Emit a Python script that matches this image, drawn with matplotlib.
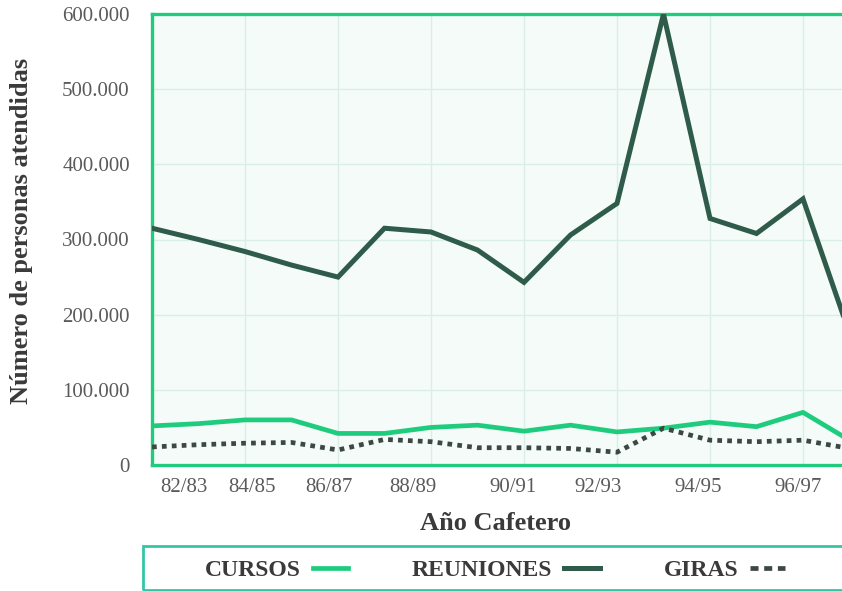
import matplotlib.pyplot as plt
from matplotlib.lines import Line2D
from matplotlib.patches import Rectangle

# datos (personas atendidas por año cafetero)
anios = ['82/83', '83/84', '84/85', '85/86', '86/87', '87/88', '88/89', '89/90',
         '90/91', '91/92', '92/93', '93/94', '94/95', '95/96', '96/97', '97/98']
reuniones = [315000, 300000, 284000, 266000, 250000, 315000, 310000, 286000,
             243000, 306000, 348000, 600000, 328000, 308000, 354000, 175000]
cursos = [52000, 55000, 60000, 60000, 42000, 42000, 50000, 53000,
          45000, 53000, 44000, 49000, 57000, 51000, 70000, 33000]
giras = [24000, 27000, 29000, 30000, 20000, 34000, 31000, 23000,
         23000, 22000, 17000, 49000, 33000, 31000, 33000, 22000]

etiquetas_x = ['82/83', '84/85', '86/87', '88/89', '90/91', '92/93', '94/95', '96/97']
yticks = [0, 100000, 200000, 300000, 400000, 500000, 600000]

verde = '#1fcc7e'
verde_osc = '#2f5b4b'
gris = '#3c4843'

plt.rcParams['font.family'] = ['Liberation Serif', 'DejaVu Serif']

fig = plt.figure(figsize=(8.42, 5.91), dpi=100)
W, H = 842, 591
x0, x1 = 152, 152 + 15.3 * 46.5
ax = fig.add_axes([x0 / W, (H - 465) / H, (x1 - x0) / W, (465 - 14) / H])
ax.set_facecolor('#f4fbf8')

x = list(range(len(anios)))
ax.plot(x, reuniones, color=verde_osc, lw=3.6, solid_joinstyle='miter', zorder=4)
ax.plot(x, cursos, color=verde, lw=3.4, zorder=4)
ax.plot(x, giras, color=gris, lw=3.4, linestyle=(0, (1, 1.1)), zorder=4)

ax.set_xlim(0, 15.3)
ax.set_ylim(0, 600000)

# etiquetas del eje x tal como aparecen (no exactamente sobre los puntos)
ax.set_xticks([0.69, 2.15, 3.8, 5.6, 7.76, 9.6, 11.74, 13.9], etiquetas_x)
ax.set_xticks(range(0, 16, 2), minor=True)
ax.set_yticks(yticks, ['0'] + [f'{v // 1000}.000' for v in yticks[1:]])
ax.tick_params(axis='both', which='both', length=0, labelsize=15, labelcolor='#5a5a5a')
ax.tick_params(axis='x', pad=9)
ax.tick_params(axis='y', pad=16)
ax.grid(True, which='minor', axis='x', color='#d9eee7', lw=1)
ax.grid(True, which='major', axis='y', color='#d9eee7', lw=1)
ax.set_axisbelow(True)

for s in ax.spines.values():
    s.set_color(verde)
    s.set_linewidth(2.4)
ax.spines['right'].set_visible(False)

ax.set_xlabel('Año Cafetero', fontsize=19, fontweight='bold', color='#3a3a3a')
ax.xaxis.set_label_coords((495 - x0) / (x1 - x0), -0.105)
ax.set_ylabel('Número de personas atendidas', fontsize=19, fontweight='bold',
              color='#3a3a3a')
ax.yaxis.set_label_coords(-(152 - 33) / (x1 - x0), 0.519)

# recuadro de la leyenda
fig.patches.append(Rectangle((143 / W, (H - 590) / H), (860 - 143) / W, 44 / H,
                             transform=fig.transFigure, fill=False,
                             edgecolor='#33c6a6', lw=2))
handles = [Line2D([], [], color=verde, lw=3.4),
           Line2D([], [], color=verde_osc, lw=3.6),
           Line2D([], [], color=gris, lw=3.4, linestyle=(0, (1.7, 1.2)))]
fig.legend(handles, ['CURSOS', 'REUNIONES', 'GIRAS'], ncol=3, markerfirst=False,
           loc='center left', bbox_to_anchor=(184 / W, (H - 570) / H),
           frameon=False, handlelength=1.5, handletextpad=0.5, columnspacing=2.7,
           prop={'weight': 'bold', 'size': 17}, labelcolor='#3a3a3a')

fig.savefig('out.png', dpi=100)
